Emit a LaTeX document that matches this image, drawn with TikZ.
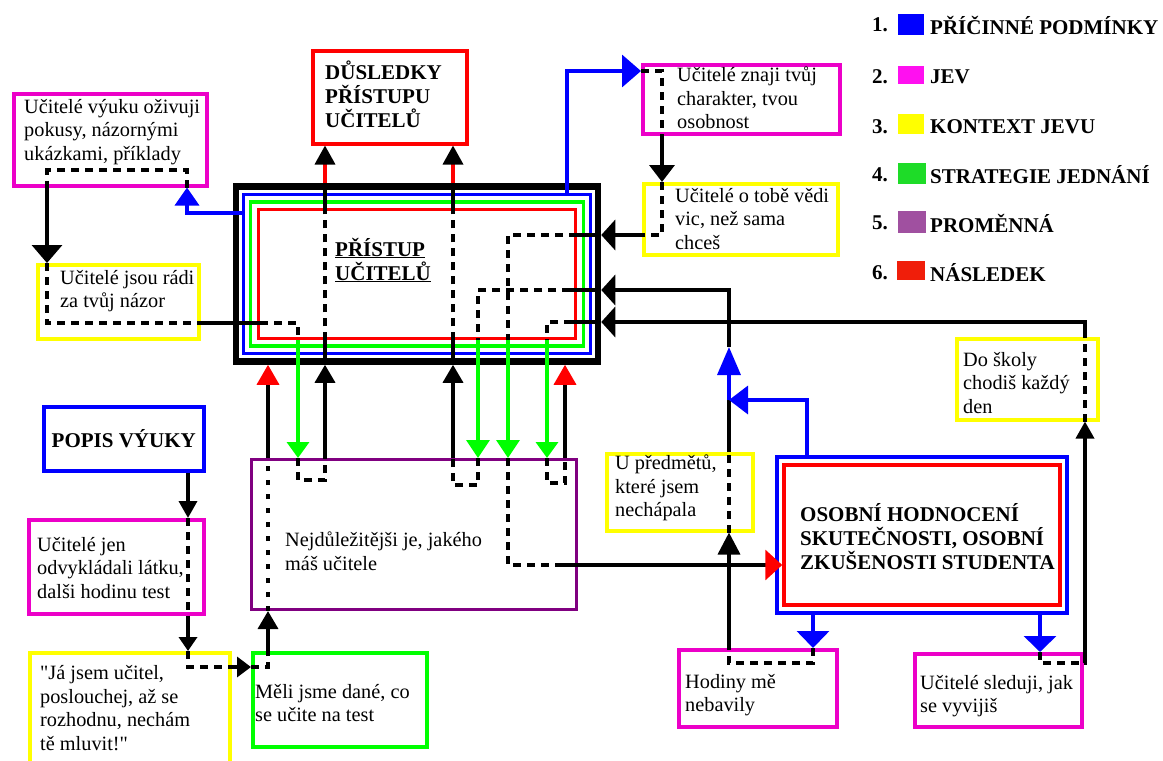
\documentclass[tikz,border=0pt]{standalone}
\usepackage{fontspec}
\setmainfont[Ligatures=TeXOff]{Liberation Serif}
\usetikzlibrary{arrows.meta}
\definecolor{cmag}{RGB}{236,0,200}
\definecolor{cyel}{RGB}{255,255,0}
\definecolor{cgrn}{RGB}{0,255,0}
\definecolor{cblu}{RGB}{0,0,255}
\definecolor{cred}{RGB}{255,0,0}
\definecolor{cpur}{RGB}{128,0,128}
\definecolor{lmag}{RGB}{255,16,240}
\definecolor{lgrn}{RGB}{30,220,40}
\definecolor{lpur}{RGB}{160,80,160}
\definecolor{lred}{RGB}{240,30,10}
\begin{document}
\begin{tikzpicture}[x=1pt,y=-1pt,
  bx/.style={draw=#1, line width=3.5pt, inner sep=0pt, anchor=north west},
  cbx/.style={draw=#1, line width=3.5pt, inner sep=0pt},
  txt/.style={font=\fontsize{20.3}{23.5}\selectfont, align=left, inner sep=0pt, anchor=west},
  btxt/.style={font=\fontsize{21}{24}\selectfont\bfseries, align=left, inner sep=0pt, anchor=west},
  legsq/.style={fill=#1, inner sep=0pt, minimum width=26pt, minimum height=21pt},
  conn/.style={line width=3.5pt},
  dsh/.style={conn, dash pattern=on 8pt off 6pt},
  dotl/.style={conn, dash pattern=on 5pt off 9pt},
  ah/.style 2 args={-{Triangle[width=#1pt,length=#2pt]}},
  aht/.style n args={3}{-{Triangle[width=#1pt,length=#2pt,color=#3]}},
]
\clip (0,0) rectangle (1163,761);
\fill[white] (0,0) rectangle (1163,761);

% ---------- boxes ----------
\node[bx=cmag, minimum width=193pt, minimum height=92pt] (A) at (12,92) {};
\node[bx=cyel, minimum width=161pt, minimum height=74pt] (B) at (36,263) {};
\node[bx=cred, minimum width=154pt, minimum height=93pt] (C) at (311,49) {};
\node[cbx=black, line width=6.5pt, minimum width=362pt, minimum height=175pt] (D) at (417,274) {};
\node[cbx=cblu, minimum width=347pt, minimum height=159pt] (Dblue) at (417,274) {};
\node[cbx=cgrn, minimum width=333pt, minimum height=144pt] (Dgreen) at (417,274) {};
\node[cbx=cred, minimum width=317pt, minimum height=129pt] (Dred) at (417,274) {};
\node[bx=cmag, minimum width=197pt, minimum height=69pt] (E) at (641,63) {};
\node[bx=cyel, minimum width=194pt, minimum height=71pt] (F) at (642,182) {};
\node[bx=cblu, minimum width=160pt, minimum height=64pt, font=\fontsize{21}{24}\selectfont\bfseries] (G) at (42,405) {POPIS VÝUKY};
\node[bx=cmag, minimum width=175pt, minimum height=94pt] (H) at (27,518) {};
\node[bx=cyel, minimum width=200pt, minimum height=130pt] (I) at (28,651) {};
\node[bx=cgrn, minimum width=174pt, minimum height=94pt] (J) at (251,651) {};
\node[bx=cpur, line width=3pt, minimum width=325pt, minimum height=150pt] (K) at (250,458) {};
\node[bx=cyel, minimum width=146pt, minimum height=77pt] (L) at (605,452) {};
\node[cbx=cblu, minimum width=290pt, minimum height=156pt] (M) at (922,535) {};
\node[cbx=cred, minimum width=276pt, minimum height=140pt] (Mred) at (922,535) {};
\node[bx=cmag, minimum width=158pt, minimum height=77pt] (N) at (677,648) {};
\node[bx=cyel, minimum width=141pt, minimum height=81pt] (O) at (955,337) {};
\node[bx=cmag, minimum width=167pt, minimum height=73pt] (P) at (913,652) {};

% ---------- texts ----------
\node[txt] (tA) at (24,132) {Učitelé výuku oživuji\\pokusy, názornými\\ukázkami, příklady};
\node[txt] (tB) at (60,291) {Učitelé jsou rádi\\za tvůj názor};
\node[btxt] (tC) at (325,94) {DŮSLEDKY\\PŘÍSTUPU\\UČITELŮ};
\node[btxt] (tD) at (335,260) {\underline{PŘÍSTUP}\\\underline{UČITELŮ}};
\node[txt] (tE) at (677,98) {Učitelé znaji tvůj\\charakter, tvou\\osobnost};
\node[txt] (tF) at (675,219) {Učitelé o tobě vědi\\vic, než sama\\chceš};
\node[txt] (tH) at (37,568) {Učitelé jen\\odvykládali látku,\\dalši hodinu test};
\node[txt] (tI) at (40,708) {"Já jsem učitel,\\poslouchej, až se\\rozhodnu, nechám\\tě mluvit!"};
\node[txt] (tJ) at (255,703) {Měli jsme dané, co\\se učite na test};
\node[txt] (tK) at (285,551) {Nejdůležitějši je, jakého\\máš učitele};
\node[txt] (tL) at (615,488) {U předmětů,\\které jsem\\nechápala};
\node[btxt] (tM) at (800,537) {OSOBNÍ HODNOCENÍ\\SKUTEČNOSTI, OSOBNÍ\\ZKUŠENOSTI STUDENTA};
\node[txt] (tN) at (685,695) {Hodiny mě\\nebavily};
\node[txt] (tO) at (963,383) {Do školy\\chodiš každý\\den};
\node[txt] (tP) at (920,696) {Učitelé sleduji, jak\\se vyvijiš};

% ---------- legend ----------
\node[btxt] (l1n) at (872,25) {1.};
\node[legsq=cblu] (l1s) at (911,24) {};
\node[btxt] (l1t) at (930,25) {PŘÍČINNÉ PODMÍNKY};
\node[btxt] (l2n) at (872,77) {2.};
\node[legsq=lmag, minimum height=18pt] (l2s) at (911,75) {};
\node[btxt] (l2t) at (930,77) {JEV};
\node[btxt] (l3n) at (872,127) {3.};
\node[legsq=cyel, minimum height=20pt] (l3s) at (911,124) {};
\node[btxt] (l3t) at (930,127) {KONTEXT JEVU};
\node[btxt] (l4n) at (872,175) {4.};
\node[legsq=lgrn, minimum width=28pt] (l4s) at (912,173) {};
\node[btxt] (l4t) at (930,175) {STRATEGIE JEDNÁNÍ};
\node[btxt] (l5n) at (872,223) {5.};
\node[legsq=lpur, minimum width=28pt, minimum height=22pt] (l5s) at (912,222) {};
\node[btxt] (l5t) at (930,223) {PROMĚNNÁ};
\node[btxt] (l6n) at (872,273) {6.};
\node[legsq=lred, minimum width=28pt, minimum height=19pt] (l6s) at (911,270) {};
\node[btxt] (l6t) at (930,273) {NÁSLEDEK};

% ---------- flow: A -> B -> big box -> K -> big box -> C ----------
\draw[conn, cblu, ah={24}{18}] (Dblue.west |- 0,213) -| (A.south -| 187,0);
\draw[dsh] (A.south -| 187,0) |- (47,170) -- (A.south -| 47,0);
\draw[conn, ah={30}{18}] (A.south -| 47,0) -- (B.north -| 47,0);
\draw[dsh] (B.north -| 47,0) |- (B.east |- 0,323);
\draw[conn] (B.east |- 0,323) -- (260,323);
\draw[dsh] (260,323) -| (Dred.south -| 298,0);
\draw[conn, cgrn, ah={22}{16}] (Dred.south -| 298,0) -- (K.north -| 298,0);
\draw[dsh] (K.north -| 298,0) |- (325,480) -- (K.north -| 325,0);
\draw[conn, ah={20}{18}] (K.north -| 325,0) -- (D.south -| 325,0);
\draw[conn] (D.south -| 325,0) -- (Dred.south -| 325,0);
\draw[dsh] (Dred.south -| 325,0) -- (Dred.north -| 325,0);
\draw[conn] (Dred.north -| 325,0) -- (D.north -| 325,0);
\draw[conn, cred, aht={20}{19}{black}] (D.north -| 325,0) -- (C.south -| 325,0);

% ---------- flow: E -> F -> big box -> K -> M ----------
\draw[conn, cblu, ah={32}{19}] (Dblue.north -| 567,0) |- (E.west |- 0,71);
\draw[dsh] (E.west |- 0,71) -| (E.south -| 662,0);
\draw[conn, ah={25}{17}] (E.south -| 662,0) -- (F.north -| 662,0);
\draw[dsh] (F.north -| 662,0) |- (F.west |- 0,235);
\draw[conn, ah={30}{14}] (F.west |- 0,235) -- (D.east |- 0,235);
\draw[conn] (D.east |- 0,235) -- (577,235);
\draw[dsh] (577,235) -| (Dred.south -| 508,0);
\draw[conn, cgrn, ah={23}{18}] (Dred.south -| 508,0) -- (K.north -| 508,0);
\draw[dsh] (K.north -| 508,0) |- (560,565);
\draw[conn, aht={30}{17}{cred}] (560,565) -- (Mred.west |- 0,565);

% ---------- flow: M -> N -> L -> big box -> K -> big box -> C ----------
\draw[conn, cblu, ah={32}{17}] (M.south -| 813,0) -- (N.north -| 813,0);
\draw[dsh] (N.north -| 813,0) |- (729,663) -- (N.north -| 729,0);
\draw[conn, ah={22}{22}] (N.north -| 729,0) -- (L.south -| 729,0);
\draw[dsh] (L.south -| 729,0) -- (L.north -| 729,0);
\draw[conn] (L.north -| 729,0) -- (729,400);
\draw[conn, cblu, ah={23}{28}] (729,400) -- (729,347);
\draw[conn, cblu, ah={28}{19}] (M.north -| 807,0) |- (729,400);
\draw[conn, ah={30}{14}] (729,347) |- (D.east |- 0,290);
\draw[conn] (D.east |- 0,290) -- (570,290);
\draw[dsh] (570,290) -| (Dred.south -| 478,0);
\draw[conn, cgrn, ah={23}{18}] (Dred.south -| 478,0) -- (K.north -| 478,0);
\draw[dsh] (K.north -| 478,0) |- (453,485) -- (K.north -| 453,0);
\draw[conn, ah={20}{18}] (K.north -| 453,0) -- (D.south -| 453,0);
\draw[conn] (D.south -| 453,0) -- (Dred.south -| 453,0);
\draw[dsh] (Dred.south -| 453,0) -- (Dred.north -| 453,0);
\draw[conn] (Dred.north -| 453,0) -- (D.north -| 453,0);
\draw[conn, cred, aht={20}{19}{black}] (D.north -| 453,0) -- (C.south -| 453,0);

% ---------- flow: M -> P -> O -> big box -> K -> big box ----------
\draw[conn, cblu, ah={32}{16}] (M.south -| 1040,0) -- (P.north -| 1040,0);
\draw[dsh] (P.north -| 1040,0) |- (P.east |- 0,663);
\draw[conn, ah={18}{17}] (P.east |- 0,663) -| (O.south -| 1085,0);
\draw[dsh] (O.south -| 1085,0) -- (O.north -| 1085,0);
\draw[conn, ah={30}{14}] (O.north -| 1085,0) |- (D.east |- 0,322);
\draw[conn] (D.east |- 0,322) -- (572,322);
\draw[dsh] (572,322) -| (Dred.south -| 547,0);
\draw[conn, cgrn, ah={22}{16}] (Dred.south -| 547,0) -- (K.north -| 547,0);
\draw[dsh] (K.north -| 547,0) |- (565,483) -- (K.north -| 565,0);
\draw[conn, aht={22}{20}{cred}] (K.north -| 565,0) -- (D.south -| 565,0);

% ---------- flow: G -> H -> I -> J -> K -> big box ----------
\draw[conn, ah={18}{17}] (G.south -| 188,0) -- (H.north -| 188,0);
\draw[dsh] (H.north -| 188,0) -- (H.south -| 188,0);
\draw[conn, ah={18}{14}] (H.south -| 188,0) -- (I.north -| 188,0);
\draw[dsh] (I.north -| 188,0) |- (I.east |- 0,667);
\draw[conn, ah={20}{14}] (I.east |- 0,667) -- (J.west |- 0,667);
\draw[dsh] (J.west |- 0,667) -| (J.north -| 268,0);
\draw[conn, ah={20}{18}] (J.north -| 268,0) -- (K.south -| 268,0);
\draw[dotl] (K.south -| 268,0) -- (K.north -| 268,0);
\draw[conn, aht={22}{20}{cred}] (K.north -| 268,0) -- (D.south -| 268,0);
\end{tikzpicture}
\end{document}
